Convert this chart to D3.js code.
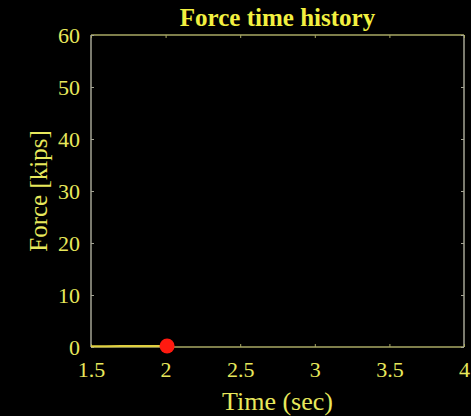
<!DOCTYPE html>
<html>
<head>
<meta charset="utf-8">
<script src="https://cdn.jsdelivr.net/npm/d3@7"></script>
<style>
  html, body { margin: 0; padding: 0; background: #000; }
  svg { display: block; }
</style>
</head>
<body>
<svg id="chart" width="471" height="416"></svg>
<script>
// Force time history data (sec, kips)
const timeSec = [1.50, 1.60, 1.70, 1.80, 1.90, 2.00, 2.01];
const forceKips = [0.15, 0.16, 0.17, 0.18, 0.19, 0.20, 0.20];
const xTicks = [1.5, 2, 2.5, 3, 3.5, 4];
const yTicks = [0, 10, 20, 30, 40, 50, 60];

const svg = d3.select("#chart");
const margin = { left: 91, right: 7, top: 35, bottom: 69 };
const W = 471, H = 416;
const x = d3.scaleLinear().domain([1.5, 4]).range([margin.left, W - margin.right]);
const y = d3.scaleLinear().domain([0, 60]).range([H - margin.bottom, margin.top]);

const textColor = "#e8e85c";
const xAxisColor = "#a8a864";
const yAxisColor = "#a4a494";
const font = "'Liberation Serif', 'Times New Roman', serif";

svg.append("rect").attr("width", W).attr("height", H).attr("fill", "#000");

// Frame: x-axis lines (bottom/top) and y-axis lines (left/right)
const g = svg.append("g");
g.append("line").attr("x1", x(1.5)).attr("x2", x(4)).attr("y1", y(0)).attr("y2", y(0))
  .attr("stroke", xAxisColor).attr("stroke-width", 1.5);
g.append("line").attr("x1", x(1.5)).attr("x2", x(4)).attr("y1", y(60)).attr("y2", y(60))
  .attr("stroke", xAxisColor).attr("stroke-width", 1.5);
g.append("line").attr("x1", x(1.5)).attr("x2", x(1.5)).attr("y1", y(0)).attr("y2", y(60))
  .attr("stroke", yAxisColor).attr("stroke-width", 1.5);
g.append("line").attr("x1", x(4)).attr("x2", x(4)).attr("y1", y(0)).attr("y2", y(60))
  .attr("stroke", yAxisColor).attr("stroke-width", 1.5);

// Bottom axis (ticks point inward)
const xAxis = d3.axisBottom(x).tickValues(xTicks).tickSize(-3).tickPadding(14)
  .tickFormat(d3.format("~g"));
const xg = svg.append("g").attr("transform", `translate(0,${y(0)})`).call(xAxis);
xg.select(".domain").remove();
xg.selectAll(".tick line").attr("stroke", xAxisColor);
xg.selectAll("text").attr("fill", textColor).style("font-family", font).style("font-size", "22px");

// Top ticks
const xTop = d3.axisTop(x).tickValues(xTicks).tickSize(-3).tickFormat("");
const xtg = svg.append("g").attr("transform", `translate(0,${y(60)})`).call(xTop);
xtg.select(".domain").remove();
xtg.selectAll(".tick line").attr("stroke", xAxisColor);

// Left axis
const yAxis = d3.axisLeft(y).tickValues(yTicks).tickSize(-3).tickPadding(11);
const yg = svg.append("g").attr("transform", `translate(${x(1.5)},0)`).call(yAxis);
yg.select(".domain").remove();
yg.selectAll(".tick line").attr("stroke", yAxisColor);
yg.selectAll("text").attr("fill", textColor).style("font-family", font).style("font-size", "22px");

// Right ticks
const yRight = d3.axisRight(y).tickValues(yTicks).tickSize(-3).tickFormat("");
const yrg = svg.append("g").attr("transform", `translate(${x(4)},0)`).call(yRight);
yrg.select(".domain").remove();
yrg.selectAll(".tick line").attr("stroke", yAxisColor);

// Force trace
const line = d3.line().x((d, i) => x(timeSec[i])).y(d => y(d));
svg.append("path").datum(forceKips).attr("d", line)
  .attr("fill", "none").attr("stroke", "#e0d040").attr("stroke-width", 2);

// Current-time marker
const last = timeSec.length - 1;
svg.append("circle").attr("cx", x(timeSec[last])).attr("cy", y(forceKips[last]))
  .attr("r", 7.5).attr("fill", "#ff1a10");

// Title and axis labels
svg.append("text").attr("x", (x(1.5) + x(4)) / 2).attr("y", 26)
  .attr("text-anchor", "middle").attr("fill", "#f2f040")
  .style("font-family", font).style("font-size", "25px").style("font-weight", "bold")
  .text("Force time history");
svg.append("text").attr("x", (x(1.5) + x(4)) / 2).attr("y", 410)
  .attr("text-anchor", "middle").attr("fill", textColor)
  .style("font-family", font).style("font-size", "26px")
  .text("Time (sec)");
svg.append("text").attr("transform", `translate(47,${(y(0) + y(60)) / 2}) rotate(-90)`)
  .attr("text-anchor", "middle").attr("fill", textColor)
  .style("font-family", font).style("font-size", "25px")
  .text("Force [kips]");
</script>
</body>
</html>
